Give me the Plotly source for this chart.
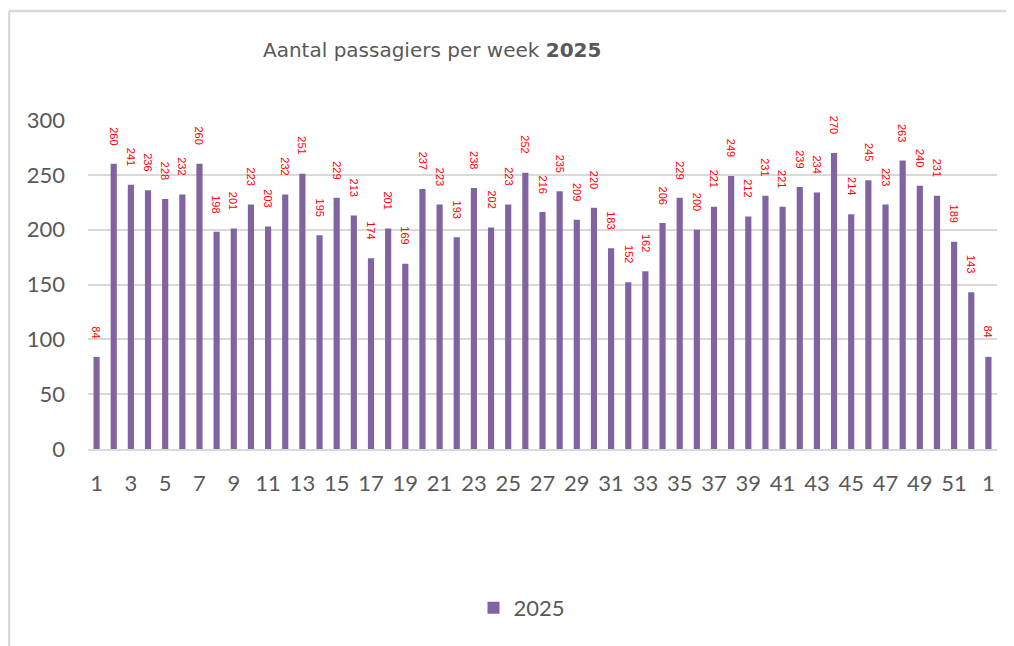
import plotly.graph_objects as go

# ---- data ----
week_labels = [str(i) for i in range(1, 53)] + ["1"]
passengers = [84, 260, 241, 236, 228, 232, 260, 198, 201, 223, 203, 232, 251, 195, 229,
              213, 174, 201, 169, 237, 223, 193, 238, 202, 223, 252, 216, 235, 209, 220,
              183, 152, 162, 206, 229, 200, 221, 249, 212, 231, 221, 239, 234, 270, 214,
              245, 223, 263, 240, 231, 189, 143, 84]
series_name = "2025"
y_ticks = [0, 50, 100, 150, 200, 250, 300]

# ---- layout geometry (page has an 8px body margin) ----
OFF = 8
W, H = 1014 - OFF, 646 - OFF
L, R, T, B = 88 - OFF, 17, 120 - OFF, 197
PW, PH = W - L - R, H - T - B


def px2x(px):
    return (px - OFF - L) / PW


def py2y(py):
    return 1 + (T - (py - OFF)) / PH


xpos = list(range(len(week_labels)))

fig = go.Figure()
fig.add_trace(go.Bar(
    x=xpos, y=passengers, name=series_name,
    marker=dict(color="#8064a2", line=dict(width=0)),
    width=0.36,
    showlegend=True,
))

annotations = []
for xi, v in zip(xpos, passengers):
    annotations.append(dict(
        x=xi, y=v, xref="x", yref="y", text=str(v), showarrow=False,
        textangle=90, yanchor="bottom", xanchor="center", yshift=17,
        font=dict(family="Liberation Sans", size=11, color="#ff0000"),
    ))

annotations.append(dict(
    x=px2x(432), y=py2y(50), xref="paper", yref="paper", xanchor="center", yanchor="middle",
    text="Aantal passagiers per week <b>2025</b>", showarrow=False,
    font=dict(family="DejaVu Sans", size=20, color="#595959"),
))
annotations.append(dict(
    x=px2x(45), y=py2y(-6), xref="paper", yref="paper", xanchor="center", yanchor="middle",
    text="g", showarrow=False, font=dict(family="Liberation Sans", size=24, color="#000000"),
))

shapes = [
    dict(type="line", xref="paper", yref="paper", x0=px2x(9), x1=px2x(9), y0=py2y(11), y1=py2y(660),
         line=dict(color="#d9d9d9", width=2.5)),
    dict(type="line", xref="paper", yref="paper", x0=px2x(9), x1=px2x(1030), y0=py2y(11), y1=py2y(11),
         line=dict(color="#d9d9d9", width=2.5)),
]

fig.update_layout(
    width=W, height=H,
    margin=dict(l=L, r=R, t=T, b=B, pad=0),
    paper_bgcolor="white", plot_bgcolor="white",
    font=dict(family="Lato", color="#595959"),
    bargap=0.64,
    annotations=annotations,
    shapes=shapes,
    showlegend=True,
    legend=dict(orientation="h", x=px2x(522), xanchor="center", y=py2y(608), yanchor="middle",
                font=dict(family="Lato", size=22, color="#595959"), itemwidth=30),
    xaxis=dict(
        tickmode="array",
        tickvals=xpos[::2], ticktext=week_labels[::2],
        range=[-0.5, len(xpos) - 0.5],
        showgrid=False, zeroline=False,
        showline=True, linecolor="#d9d9d9", linewidth=2,
        ticks="", tickfont=dict(family="Lato", size=22, color="#595959"),
        ticklabelstandoff=14,
    ),
    yaxis=dict(
        range=[0, 300], tickvals=y_ticks,
        showgrid=True, gridcolor="#d9d9d9", gridwidth=2,
        zeroline=False, showline=False, ticks="",
        tickfont=dict(family="Lato", size=22, color="#595959"),
        ticklabelstandoff=22,
    ),
)

fig.write_html("out.html")
